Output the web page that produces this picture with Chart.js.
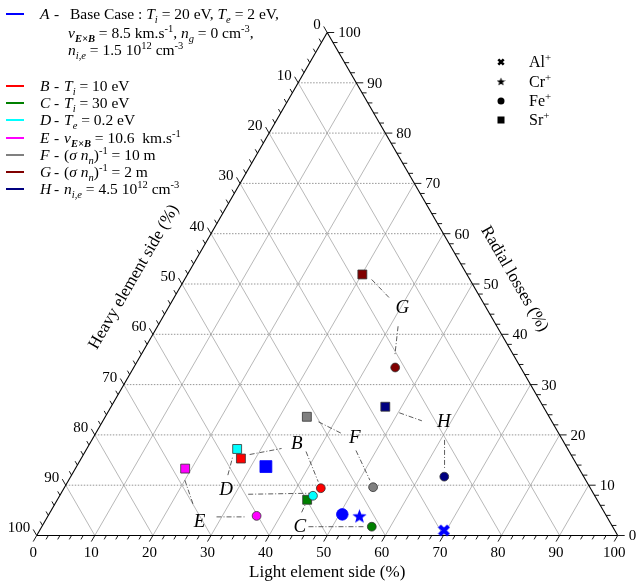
<!DOCTYPE html>
<html>
<head>
<meta charset="utf-8">
<script src="https://cdn.jsdelivr.net/npm/chart.js@4.4.0/dist/chart.umd.min.js"></script>
<style>
  body { margin: 0; background: #fff; }
  #wrap { position: relative; width: 638px; height: 582px; font-family: 'Liberation Serif', 'Times New Roman', serif; color: #000; }
  #wrap canvas { position: absolute; left: 0; top: 0; }
  .row { position: absolute; white-space: nowrap; font-size: 15.5px; line-height: 18px; height: 18px; }
  .key { position: absolute; left: 6px; width: 18px; height: 2px; }
  sub, sup { font-size: 68%; line-height: 0; }
</style>
</head>
<body>
<div id="wrap">
  <canvas id="ternaryChart" width="638" height="582"></canvas>
</div>
<script>
// cases A..H
var caseLetters = ['A', 'B', 'C', 'D', 'E', 'F', 'G', 'H'];
var caseColors = ['#0000ff', '#ff0000', '#008000', '#00ffff', '#ff00ff', '#808080', '#800000', '#000080'];
var caseNotes = [
  'Base Case : <i>T<sub>i</sub></i> = 20 eV, <i>T<sub>e</sub></i> = 2 eV,',
  '<i>T<sub>i</sub></i> = 10 eV',
  '<i>T<sub>i</sub></i> = 30 eV',
  '<i>T<sub>e</sub></i> = 0.2 eV',
  '<i>v<sub><b>E\u00d7B</b></sub></i> = 10.6&nbsp; km.s<sup>-1</sup>',
  '(<i>\u03c3 n<sub>n</sub></i>)<sup>-1</sup> = 10 m',
  '(<i>\u03c3 n<sub>n</sub></i>)<sup>-1</sup> = 2 m',
  '<i>n<sub>i,e</sub></i> = 4.5 10<sup>12</sup> cm<sup>-3</sup>'
];
var baseCaseExtra = [
  '<i>v<sub><b>E\u00d7B</b></sub></i> = 8.5 km.s<sup>-1</sup>, <i>n<sub>g</sub></i> = 0 cm<sup>-3</sup>,',
  '<i>n<sub>i,e</sub></i> = 1.5 10<sup>12</sup> cm<sup>-3</sup>'
];

// ions
var ionNames = ['Al', 'Cr', 'Fe', 'Sr'];

// values in % : light element side, radial losses (heavy side = 100 - both)
var alLight = [69.6];
var alRadial = [1.0];
var crLight = [53.6];
var crRadial = [3.9];
var feLight = [50.5, 44.2, 56.8, 43.6, 35.9, 53.1, 45.0, 64.3];
var feRadial = [4.2, 9.4, 1.75, 7.9, 3.9, 9.6, 33.4, 11.7];
var srLight = [32.6, 27.5, 43.0, 25.9, 18.9, 34.7, 30.1, 47.2];
var srRadial = [13.7, 15.3, 7.1, 17.2, 13.3, 23.6, 51.9, 25.6];

// axis ticks
var tickValues = [0, 10, 20, 30, 40, 50, 60, 70, 80, 90, 100];

// letter labels and leader lines (light, radial)
var labelLight = [null, 35.7, 44.4, 28.1, 26.7, 45.1, 40.35, 58.8];
var labelRadial = [null, 18.1, 1.75, 9.0, 2.7, 19.3, 45.2, 22.6];
var leaders = [
  [28.6, 16.1, 33.5, 17.3], [38.0, 16.7, 43.1, 10.7],
  [45.9, 1.75, 55.6, 1.75], [43.3, 4.6, 43.15, 6.1],
  [26.9, 12.0, 25.9, 15.7], [32.3, 8.2, 42.85, 8.4],
  [20.0, 11.0, 23.9, 6.1], [29.1, 3.7, 34.0, 3.7],
  [37.2, 22.6, 42.3, 20.3], [46.5, 16.9, 51.85, 11.0],
  [32.2, 50.9, 37.2, 47.15], [41.4, 41.6, 43.7, 35.9],
  [50.2, 24.4, 54.9, 22.8], [60.7, 19.0, 63.5, 13.4]
];

var H3 = Math.sqrt(3) / 2;
function tern(light, radial) {
  return { x: light + radial / 2, y: radial * H3 };
}
function pts(light, radial) {
  return light.map(function (l, i) { return tern(l, radial[i]); });
}

function makeStar(color, size) {
  var c = document.createElement('canvas');
  c.width = c.height = size;
  var g = c.getContext('2d');
  var cx = size / 2, cy = size / 2 + size * 0.05, R = size / 2, r = R * 0.42;
  g.fillStyle = color;
  g.beginPath();
  for (var i = 0; i < 10; i++) {
    var a = -Math.PI / 2 + i * Math.PI / 5;
    var rad = i % 2 ? r : R;
    g.lineTo(cx + rad * Math.cos(a), cy + rad * Math.sin(a));
  }
  g.closePath();
  g.fill();
  return c;
}
function makeCross(color, size, w) {
  var c = document.createElement('canvas');
  c.width = c.height = size;
  var g = c.getContext('2d');
  var m = w / 2;
  g.strokeStyle = color;
  g.lineWidth = w;
  g.beginPath();
  g.moveTo(m, m); g.lineTo(size - m, size - m);
  g.moveTo(size - m, m); g.lineTo(m, size - m);
  g.stroke();
  return c;
}

// legend rows (html text)
var wrap = document.getElementById('wrap');
function addRow(html, left, yc, size) {
  var d = document.createElement('div');
  d.className = 'row';
  d.style.left = left + 'px';
  d.style.top = (yc - 9) + 'px';
  if (size) d.style.fontSize = size + 'px';
  d.innerHTML = html;
  wrap.appendChild(d);
}
var rowY = [14, 86, 103.2, 120.4, 137.6, 154.8, 172, 189.2];
caseLetters.forEach(function (c, i) {
  var k = document.createElement('div');
  k.className = 'key';
  k.style.top = (rowY[i] - 1) + 'px';
  k.style.background = caseColors[i];
  wrap.appendChild(k);
  addRow('<i>' + c + '</i>', 40, rowY[i]);
  addRow('-', 54, rowY[i]);
  addRow(caseNotes[i], i === 0 ? 70 : 64, rowY[i]);
});
addRow(baseCaseExtra[0], 68, 33);
addRow(baseCaseExtra[1], 68, 50);
var ionY = [62, 81.5, 101, 120];
ionNames.forEach(function (n, i) {
  addRow(n + '<sup>+</sup>', 529, ionY[i], 16);
});

var ternaryGrid = {
  id: 'ternaryGrid',
  beforeDatasetsDraw: function (chart) {
    var ctx = chart.ctx, xs = chart.scales.x, ys = chart.scales.y;
    function px(l, r) { var p = tern(l, r); return [xs.getPixelForValue(p.x), ys.getPixelForValue(p.y)]; }
    function seg(a, b) { ctx.beginPath(); ctx.moveTo(a[0], a[1]); ctx.lineTo(b[0], b[1]); ctx.stroke(); }
    ctx.save();
    ctx.strokeStyle = '#b0b0b0';
    ctx.lineWidth = 0.9;
    for (var v = 10; v < 100; v += 10) {
      seg(px(v, 0), px(v, 100 - v));
      seg(px(v, 0), px(0, v));
    }
    ctx.strokeStyle = '#8a8a8a';
    ctx.setLineDash([1.5, 1.5]);
    for (v = 10; v < 100; v += 10) {
      seg(px(0, v), px(100 - v, v));
    }
    ctx.setLineDash([]);
    ctx.strokeStyle = '#000';
    ctx.lineWidth = 1.1;
    seg(px(0, 0), px(100, 0));
    seg(px(100, 0), px(0, 100));
    seg(px(0, 100), px(0, 0));

    // ticks
    ctx.lineWidth = 0.9;
    for (v = 0; v <= 100; v += 2) {
      var len = v % 10 === 0 ? 7 : 4.5;
      var p = px(v, 0);
      seg(p, [p[0] - 0.5 * len, p[1] + H3 * len]);
      p = px(0, 100 - v);
      seg(p, [p[0] - 0.5 * len, p[1] - H3 * len]);
      p = px(100 - v, v);
      seg(p, [p[0] + len, p[1]]);
    }

    // tick labels
    ctx.fillStyle = '#000';
    ctx.font = "15px 'Liberation Serif', serif";
    tickValues.forEach(function (t) {
      var p = px(t, 0);
      ctx.textAlign = 'center'; ctx.textBaseline = 'top';
      ctx.fillText(String(t), p[0] - 3.5, p[1] + 10);
      p = px(0, 100 - t);
      ctx.textAlign = 'right'; ctx.textBaseline = 'middle';
      ctx.fillText(String(t), p[0] - 6.5, p[1] - 7);
      p = px(100 - t, t);
      ctx.textAlign = 'left'; ctx.textBaseline = 'middle';
      ctx.fillText(String(t), p[0] + 11, p[1] + 1);
    });

    // axis titles
    ctx.font = "17px 'Liberation Serif', serif";
    ctx.textAlign = 'center'; ctx.textBaseline = 'middle';
    var b = px(50, 0);
    ctx.fillText('Light element side (%)', b[0], b[1] + 37);
    var l = px(0, 50);
    ctx.save();
    ctx.translate(l[0] - 48, l[1] - 7);
    ctx.rotate(-Math.PI / 3);
    ctx.fillText('Heavy element side (%)', 0, 0);
    ctx.restore();
    var r = px(50, 50);
    ctx.save();
    ctx.translate(r[0] + 42, r[1] - 5);
    ctx.rotate(Math.PI / 3);
    ctx.fillText('Radial losses (%)', 0, 0);
    ctx.restore();

    // case letters
    ctx.font = "italic 19px 'Liberation Serif', serif";
    caseLetters.forEach(function (c, i) {
      if (labelLight[i] === null) return;
      var q = px(labelLight[i], labelRadial[i]);
      ctx.fillText(c, q[0], q[1]);
    });
    ctx.restore();
  },
  afterDraw: function (chart) {
    // ion symbol legend
    var ctx = chart.ctx;
    var x = 501;
    ctx.save();
    ctx.drawImage(legendCross, x - 4, ionY[0] - 4);
    ctx.drawImage(legendStar, x - 4.5, ionY[1] - 4.5);
    ctx.fillStyle = '#000';
    ctx.beginPath(); ctx.arc(x, ionY[2], 3.5, 0, Math.PI * 2); ctx.fill();
    ctx.fillRect(x - 3.5, ionY[3] - 3.5, 7, 7);
    ctx.restore();
  }
};

var legendCross = makeCross('#000', 8, 2.6);
var legendStar = makeStar('#000', 9);
var blueStar = makeStar('#0000ff', 15);
var blueCross = makeCross('#0000ff', 13, 4);

function sizes(big, small) { return caseColors.map(function (c, i) { return i === 0 ? big : small; }); }
var edgeColors = caseColors.map(function (c, i) { return i === 0 ? c : '#333'; });

var datasets = [
  { data: pts(alLight, alRadial), pointStyle: blueCross, pointRadius: 7 },
  { data: pts(crLight, crRadial), pointStyle: blueStar, pointRadius: 7 },
  { data: pts(feLight, feRadial), pointStyle: 'circle', pointRadius: sizes(5.8, 4.4),
    backgroundColor: caseColors, borderColor: edgeColors, borderWidth: 0.8 },
  { data: pts(srLight, srRadial), pointStyle: 'rect', pointRadius: sizes(8.4, 6.3),
    backgroundColor: caseColors, borderColor: edgeColors, borderWidth: 0.8 }
].map(function (d) { d.order = 0; d.clip = false; return d; });

leaders.forEach(function (s) {
  datasets.push({
    data: [tern(s[0], s[1]), tern(s[2], s[3])],
    showLine: true, pointRadius: 0, borderColor: '#333', borderWidth: 0.8,
    borderDash: [5, 2, 1, 2], order: 5, clip: false
  });
});

var ctx = document.getElementById('ternaryChart').getContext('2d');
var chart = new Chart(ctx, {
  type: 'scatter',
  data: { datasets: datasets },
  options: {
    responsive: false,
    animation: false,
    layout: { padding: { left: 36.7, right: 20.3, top: 32.5, bottom: 46.5 } },
    plugins: { legend: { display: false }, tooltip: { enabled: false } },
    scales: {
      x: { type: 'linear', min: 0, max: 100, display: false },
      y: { type: 'linear', min: 0, max: 100 * H3, display: false }
    }
  },
  plugins: [ternaryGrid]
});
</script>
</body>
</html>
